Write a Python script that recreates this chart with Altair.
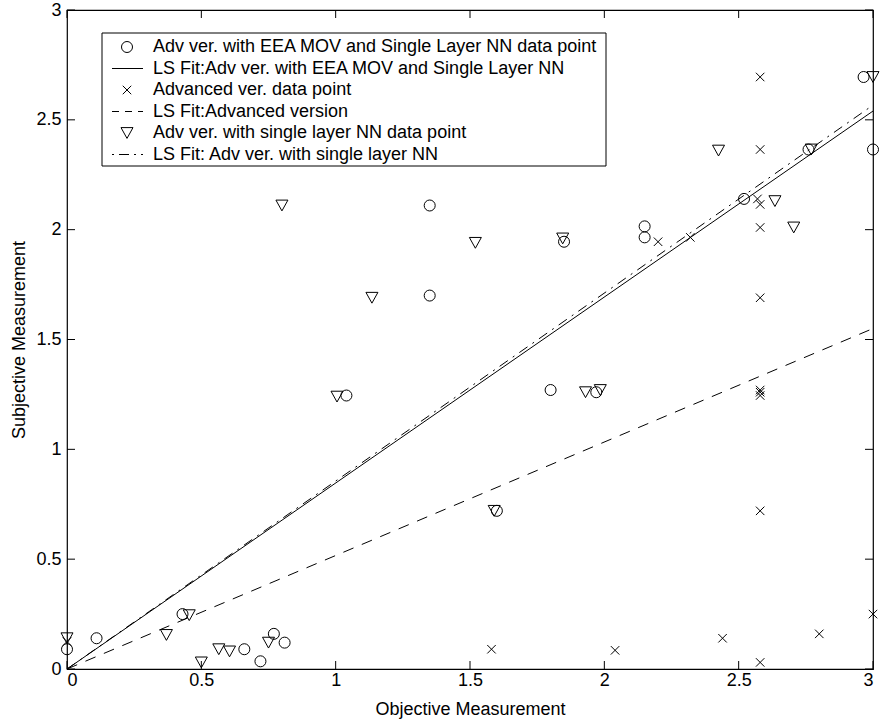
import altair as alt
import pandas as pd

# --- data -----------------------------------------------------------------
# Adv ver. with EEA MOV and Single Layer NN
eea_x = [0.00, 0.11, 0.43, 0.66, 0.72, 0.77, 0.81, 1.04, 1.35, 1.35,
         1.60, 1.80, 1.85, 1.97, 2.15, 2.15, 2.52, 2.76, 2.965, 3.00]
eea_y = [0.09, 0.14, 0.25, 0.09, 0.035, 0.16, 0.12, 1.245, 2.11, 1.70,
         0.72, 1.27, 1.945, 1.26, 2.015, 1.965, 2.14, 2.365, 2.695, 2.365]

# Advanced version
adv_x = [0.00, 1.58, 2.04, 2.44, 2.58, 2.80, 3.00, 2.58, 2.58, 2.58,
         2.58, 2.58, 2.58, 2.57, 2.58, 2.58, 2.58, 2.20, 2.32]
adv_y = [0.125, 0.09, 0.085, 0.14, 0.03, 0.16, 0.25, 0.72, 1.245, 1.26,
         1.27, 1.69, 2.01, 2.14, 2.115, 2.365, 2.695, 1.945, 1.965]

# Adv ver. with single layer NN
nn_x = [0.00, 0.37, 0.455, 0.50, 0.565, 0.605, 0.75, 0.80, 1.005, 1.135,
        1.52, 1.59, 1.845, 1.93, 1.985, 2.425, 2.635, 2.705, 2.77, 3.00]
nn_y = [0.14, 0.155, 0.245, 0.03, 0.09, 0.08, 0.12, 2.11, 1.24, 1.69,
        1.94, 0.72, 1.96, 1.26, 1.27, 2.36, 2.13, 2.01, 2.365, 2.695]

# least-squares fit lines (end points)
fit_x = [0.0, 3.0]
fit_eea_y = [0.0, 2.54]
fit_adv_y = [0.0, 1.55]
fit_nn_y = [0.0, 2.567]

ticks = [0, 0.5, 1, 1.5, 2, 2.5, 3]

legend_labels = [
    "Adv ver. with EEA MOV and Single Layer NN data point",
    "LS Fit:Adv ver. with EEA MOV and Single Layer NN",
    "Advanced ver. data point",
    "LS Fit:Advanced version",
    "Adv ver. with single layer NN data point",
    "LS Fit: Adv ver. with single layer NN",
]

# --- layout ---------------------------------------------------------------
W, H = 806, 659
FONT = "Liberation Sans"
FS = 18
TICK = 8

CROSS = "M-1,-1L1,1M-1,1L1,-1"
TRI_DOWN = "M-1,-0.9L1,-0.9L0,0.9Z"

xs = alt.Scale(domain=[0, 3], nice=False, zero=False)
ys = alt.Scale(domain=[0, 3], nice=False, zero=False)

x_axis = alt.Axis(values=ticks, format="~g", ticks=False, tickSize=0, domain=False,
                  grid=False, labelPadding=2, title="Objective Measurement",
                  titleY=45, titleBaseline="alphabetic")
y_axis = alt.Axis(values=ticks, format="~g", ticks=False, tickSize=0, domain=False,
                  grid=False, labelPadding=6, title="Subjective Measurement",
                  titleX=-43, titleBaseline="alphabetic")


def pts(x, y):
    return pd.DataFrame({"x": x, "y": y})


def point_layer(df, shape, size):
    return alt.Chart(df).mark_point(
        shape=shape, size=size, filled=False, stroke="black", strokeWidth=1, opacity=1
    ).encode(
        x=alt.X("x:Q", scale=xs, axis=x_axis),
        y=alt.Y("y:Q", scale=ys, axis=y_axis),
    )


def fit_layer(y, dash):
    kw = {"strokeDash": dash} if dash else {}
    return alt.Chart(pts(fit_x, y)).mark_line(
        color="black", strokeWidth=1, **kw
    ).encode(
        x=alt.X("x:Q", scale=xs, axis=x_axis),
        y=alt.Y("y:Q", scale=ys, axis=y_axis),
    )


DASH = [11, 9]
DASHDOT = [10, 6, 2, 6]

circles = point_layer(pts(eea_x, eea_y), "circle", 121)
fit_eea = fit_layer(fit_eea_y, None)
crosses = point_layer(pts(adv_x, adv_y), CROSS, 72)
fit_adv = fit_layer(fit_adv_y, DASH)
triangles = point_layer(pts(nn_x, nn_y), TRI_DOWN, 144)
fit_nn = fit_layer(fit_nn_y, DASHDOT)

# inward ticks on all four sides
tick_df = pd.DataFrame({"t": ticks})
tick_bottom = alt.Chart(tick_df).mark_rule(color="black", strokeWidth=1).encode(
    x=alt.X("t:Q", scale=xs, axis=x_axis), y=alt.value(H), y2=alt.value(H - TICK))
tick_top = alt.Chart(tick_df).mark_rule(color="black", strokeWidth=1).encode(
    x=alt.X("t:Q", scale=xs, axis=x_axis), y=alt.value(0), y2=alt.value(TICK))
tick_left = alt.Chart(tick_df).mark_rule(color="black", strokeWidth=1).encode(
    y=alt.Y("t:Q", scale=ys, axis=y_axis), x=alt.value(0), x2=alt.value(TICK))
tick_right = alt.Chart(tick_df).mark_rule(color="black", strokeWidth=1).encode(
    y=alt.Y("t:Q", scale=ys, axis=y_axis), x=alt.value(W), x2=alt.value(W - TICK))

# legend box in the upper-left corner
LX0, LX1, LY0, LY1 = 35, 539, 23, 156
ROW0, ROWH = 37, 21.5
SYM_X = 60
LINE_X0, LINE_X1 = 45, 76
TEXT_X = 86

one = pd.DataFrame({"k": [0]})
legend_box = alt.Chart(one).mark_rect(fill="white", stroke="black", strokeWidth=1).encode(
    x=alt.value(LX0), x2=alt.value(LX1), y=alt.value(LY0), y2=alt.value(LY1))

leg_df = pd.DataFrame({"label": legend_labels, "row": list(range(len(legend_labels)))})
legend_text = alt.Chart(leg_df).transform_calculate(
    ly=f"{ROW0} + {ROWH} * datum.row"
).mark_text(align="left", baseline="middle", font=FONT, fontSize=FS, color="black").encode(
    x=alt.value(TEXT_X), y=alt.Y("ly:Q", scale=None), text="label:N")


def legend_symbol(row, shape, size):
    return alt.Chart(one).mark_point(
        shape=shape, size=size, filled=False, stroke="black", strokeWidth=1, opacity=1
    ).encode(x=alt.value(SYM_X), y=alt.value(ROW0 + ROWH * row))


def legend_line(row, dash):
    kw = {"strokeDash": dash} if dash else {}
    return alt.Chart(one).mark_rule(color="black", strokeWidth=1, **kw).encode(
        x=alt.value(LINE_X0), x2=alt.value(LINE_X1), y=alt.value(ROW0 + ROWH * row))


legend_layers = [
    legend_box,
    legend_symbol(0, "circle", 121),
    legend_line(1, None),
    legend_symbol(2, CROSS, 72),
    legend_line(3, [7, 6]),
    legend_symbol(4, TRI_DOWN, 144),
    legend_line(5, [2, 5, 10, 5]),
    legend_text,
]

chart = alt.layer(
    circles, fit_eea, crosses, fit_adv, triangles, fit_nn,
    tick_bottom, tick_top, tick_left, tick_right,
    *legend_layers,
).properties(
    width=W, height=H,
    autosize=alt.AutoSizeParams(type="none"),
    padding={"left": 67, "top": 10, "right": 8, "bottom": 54},
    background="white",
).configure_view(
    stroke="black", strokeWidth=1.2
).configure_axis(
    labelFont=FONT, labelFontSize=FS, labelColor="black",
    titleFont=FONT, titleFontSize=FS, titleFontWeight="normal", titleColor="black",
)

chart.save("out.html", embed_options={"renderer": "svg", "actions": False})
